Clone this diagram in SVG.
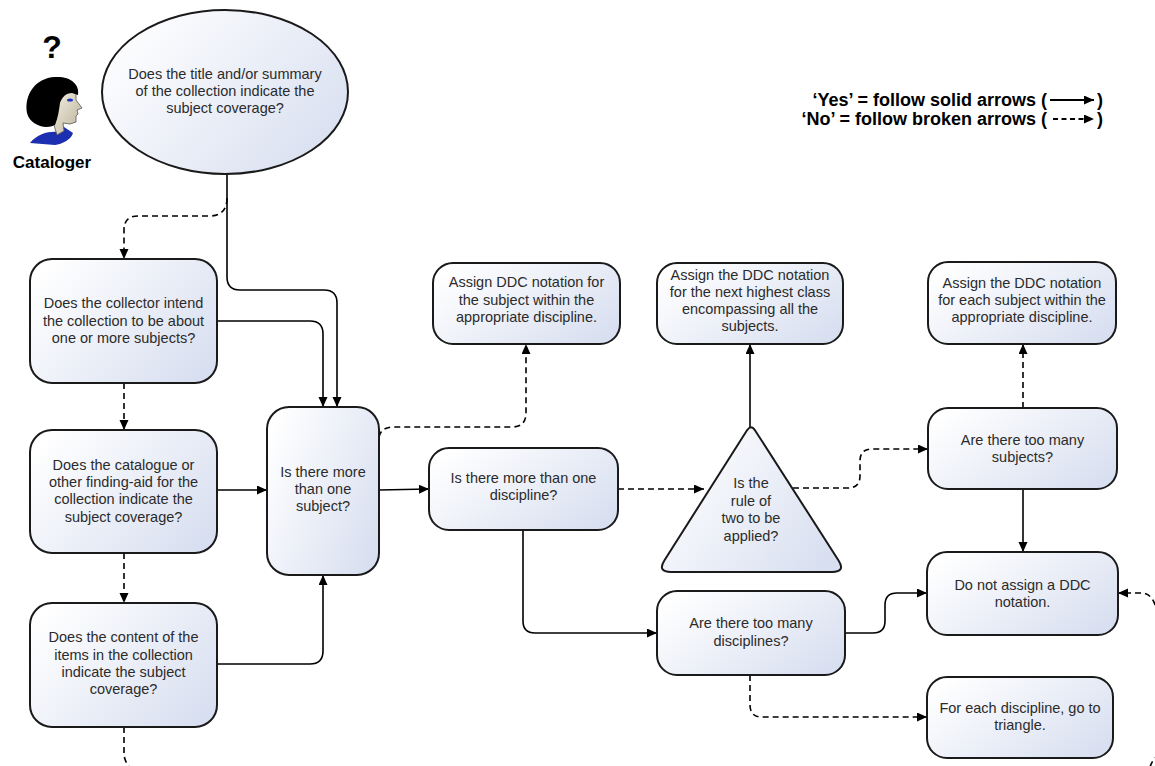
<svg xmlns="http://www.w3.org/2000/svg" width="1155" height="766" viewBox="0 0 1155 766">
<defs>
<linearGradient id="g" x1="0" y1="0.2" x2="1" y2="0.8">
<stop offset="0" stop-color="#ffffff"/>
<stop offset="1" stop-color="#d8dff0"/>
</linearGradient>
<linearGradient id="skin" x1="0" y1="0" x2="1" y2="1">
<stop offset="0" stop-color="#f6f1e2"/>
<stop offset="1" stop-color="#b9b09a"/>
</linearGradient>
<marker id="ah" markerUnits="userSpaceOnUse" markerWidth="11" markerHeight="10" refX="10" refY="4.5" orient="auto">
<path d="M0,0 L10,4.5 L0,9 Z" fill="#000"/>
</marker>
<style>
.n{fill:url(#g);stroke:#1a1a1a;stroke-width:2}
.t{font-family:"Liberation Sans",Arial,sans-serif;font-size:14.5px;fill:#2b2b2b;text-anchor:middle}
.c{fill:none;stroke:#000;stroke-width:1.6}
.y{marker-end:url(#ah)}
.d{stroke-dasharray:6 4}
.b{font-family:"Liberation Sans",Arial,sans-serif;font-weight:bold;fill:#000}
</style>
</defs>
<rect width="1155" height="766" fill="#fff"/>

<g id="cataloger">
<text class="b" x="52" y="58" font-size="32" text-anchor="middle">?</text>
<path d="M30 143 C38 133 50 131 58 132 L64 127 L73 133 C71 140 62 144 55 145 Z" fill="#1c2fb0"/>
<path d="M58 90 L76 91 L76 100 L82 108 L77 110 L78 114 L76 116 L76 122 L70 124 L63 123 L64 131 L57 135 L53 122 Z" fill="url(#skin)" stroke="#555" stroke-width="0.8"/>
<path d="M27 113 C24 95 35 78 55 77 C70 76 80 84 78 95 L72 93 C66 93 62 97 60 103 C59 110 58 118 55 125 C45 130 30 125 27 113 Z" fill="#000"/>
<ellipse cx="70" cy="100" rx="3" ry="1.6" fill="#2233cc"/>
<text class="b" x="52" y="168" font-size="17" text-anchor="middle">Cataloger</text>
</g>

<g id="legend" class="b" font-size="18">
<text x="1047" y="106" text-anchor="end">‘Yes’ = follow solid arrows (</text>
<text x="1097" y="106">)</text>
<text x="1047" y="125" text-anchor="end">‘No’ = follow broken arrows (</text>
<text x="1097" y="125">)</text>
<line x1="1050" y1="100" x2="1094" y2="100" stroke="#000" stroke-width="2" marker-end="url(#ah)"/>
<line x1="1053" y1="119" x2="1094" y2="119" stroke="#000" stroke-width="2" stroke-dasharray="5 3.5" marker-end="url(#ah)"/>
</g>

<g id="connectors">
<path class="c y" d="M227 173 L227 277 Q227 290 240 290 L324 290 Q337 290 337 303 L337 407"/>
<path class="c y" d="M217 321 L310 321 Q323 321 323 334 L323 407"/>
<path class="c y d" d="M227 198 Q227 216 209 216 L138 216 Q124 216 124 230 L124 259"/>
<path class="c y d" d="M124 383 L124 430"/>
<path class="c y d" d="M124 553 L124 603"/>
<path class="c d" d="M124 727 L124 755 Q125 762 130 768"/>
<path class="c y" d="M217 490 L267 490"/>
<path class="c y" d="M217 664 L310 664 Q323 664 323 651 L323 575"/>
<path class="c y d" d="M379 437 Q381 427 394 427 L512 427 Q526 427 526 413 L526 344"/>
<path class="c y" d="M379 490 L429 489"/>
<path class="c y d" d="M618 489 L704 489"/>
<path class="c y" d="M750 427 L750 344"/>
<path class="c y d" d="M793 488 L848 488 Q860 488 860 476 L860 461 Q860 449 872 449 L928 449"/>
<path class="c y d" d="M1023 408 L1023 344"/>
<path class="c y" d="M1023 489 L1023 552"/>
<path class="c y" d="M523 530 L523 621 Q523 633 535 633 L657 633"/>
<path class="c y" d="M845 633 L873 633 Q885 633 885 621 L885 605 Q885 593 897 593 L927 593"/>
<path class="c y d" d="M750 675 L750 705 Q750 717 762 717 L927 717"/>
<path class="c y d" d="M1157 615 Q1155 594 1142 593 L1118 593"/>
<path class="c d" d="M1150 767 Q1152 761 1156 757"/>
</g>

<g id="start">
<ellipse class="n" cx="225" cy="92" rx="123" ry="82"/>
<text class="t"><tspan x="225" y="79">Does the title and/or summary</tspan><tspan x="225" y="96">of the collection indicate the</tspan><tspan x="225" y="113">subject coverage?</tspan></text>
</g>

<g id="collector">
<rect class="n" x="30" y="259" width="187" height="124" rx="22"/>
<text class="t"><tspan x="123.5" y="308">Does the collector intend</tspan><tspan x="123.5" y="326">the collection to be about</tspan><tspan x="123.5" y="343">one or more subjects?</tspan></text>
</g>

<g id="catalogue">
<rect class="n" x="30" y="430" width="187" height="123" rx="22"/>
<text class="t"><tspan x="123.5" y="470">Does the catalogue or</tspan><tspan x="123.5" y="487">other finding-aid for the</tspan><tspan x="123.5" y="504">collection indicate the</tspan><tspan x="123.5" y="522">subject coverage?</tspan></text>
</g>

<g id="content">
<rect class="n" x="30" y="603" width="187" height="124" rx="22"/>
<text class="t"><tspan x="123.5" y="642">Does the content of the</tspan><tspan x="123.5" y="660">items in the collection</tspan><tspan x="123.5" y="677">indicate the subject</tspan><tspan x="123.5" y="694">coverage?</tspan></text>
</g>

<g id="moresubject">
<rect class="n" x="267" y="407" width="112" height="168" rx="22"/>
<text class="t"><tspan x="323" y="477">Is there more</tspan><tspan x="323" y="494">than one</tspan><tspan x="323" y="511">subject?</tspan></text>
</g>

<g id="assignsubject">
<rect class="n" x="433" y="263" width="187" height="81" rx="20"/>
<text class="t"><tspan x="526.5" y="287">Assign DDC notation for</tspan><tspan x="526.5" y="305">the subject within the</tspan><tspan x="526.5" y="322">appropriate discipline.</tspan></text>
</g>

<g id="morediscipline">
<rect class="n" x="429" y="448" width="189" height="82" rx="20"/>
<text class="t"><tspan x="523.5" y="483">Is there more than one</tspan><tspan x="523.5" y="500">discipline?</tspan></text>
</g>

<g id="nexthighest">
<rect class="n" x="657" y="263" width="186" height="81" rx="20"/>
<text class="t"><tspan x="750" y="280">Assign the DDC notation</tspan><tspan x="750" y="297">for the next highest class</tspan><tspan x="750" y="314">encompassing all the</tspan><tspan x="750" y="331">subjects.</tspan></text>
</g>

<g id="ruleoftwo">
<path class="n" d="M746.7 430.8 Q751 424 755.3 430.7 L838.4 560.2 Q846 572 832 572 L671 572 Q657 572 664.5 560.2 Z"/>
<text class="t"><tspan x="751" y="488">Is the</tspan><tspan x="751" y="506">rule of</tspan><tspan x="751" y="523">two to be</tspan><tspan x="751" y="541">applied?</tspan></text>
</g>

<g id="eachsubject">
<rect class="n" x="928" y="262" width="188" height="82" rx="20"/>
<text class="t"><tspan x="1022" y="288">Assign the DDC notation</tspan><tspan x="1022" y="305">for each subject within the</tspan><tspan x="1022" y="322">appropriate discipline.</tspan></text>
</g>

<g id="toomanysubjects">
<rect class="n" x="928" y="408" width="189" height="81" rx="20"/>
<text class="t"><tspan x="1022.5" y="445">Are there too many</tspan><tspan x="1022.5" y="462">subjects?</tspan></text>
</g>

<g id="toomanydisciplines">
<rect class="n" x="657" y="591" width="188" height="84" rx="20"/>
<text class="t"><tspan x="751" y="628">Are there too many</tspan><tspan x="751" y="646">disciplines?</tspan></text>
</g>

<g id="donotassign">
<rect class="n" x="927" y="552" width="191" height="83" rx="20"/>
<text class="t"><tspan x="1022.5" y="590">Do not assign a DDC</tspan><tspan x="1022.5" y="607">notation.</tspan></text>
</g>

<g id="eachdiscipline">
<rect class="n" x="927" y="677" width="186" height="81" rx="20"/>
<text class="t"><tspan x="1020" y="713">For each discipline, go to</tspan><tspan x="1020" y="730">triangle.</tspan></text>
</g>
</svg>
